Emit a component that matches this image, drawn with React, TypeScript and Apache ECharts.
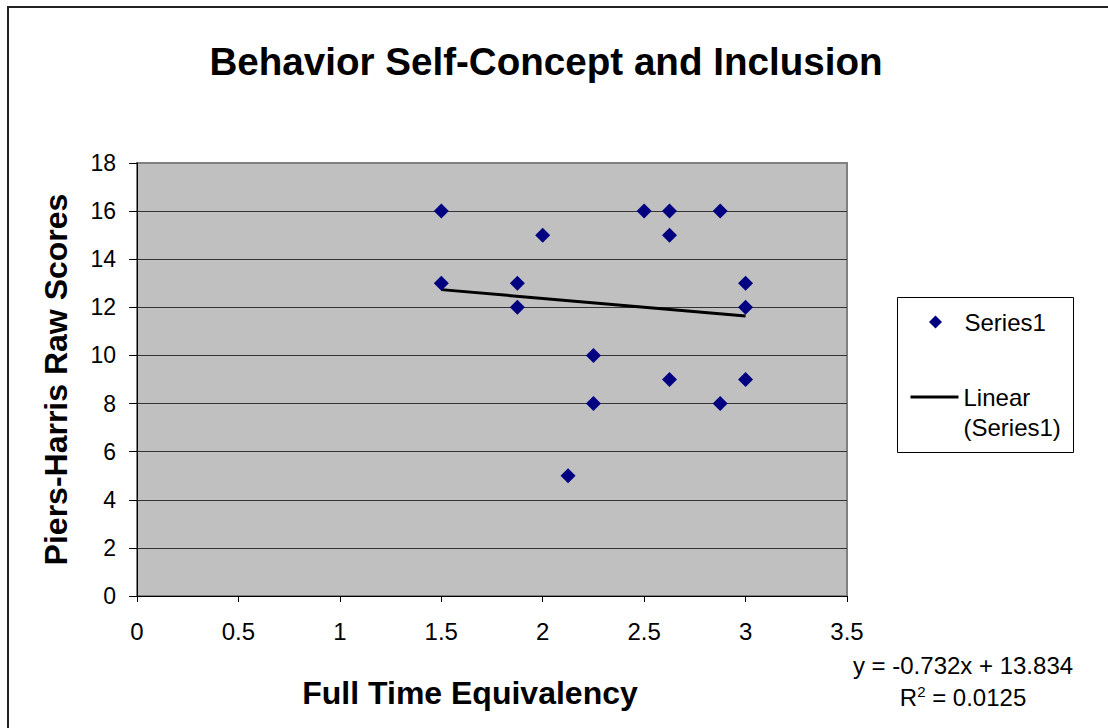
import React, { useEffect, useRef } from "react";
import * as echarts from "echarts";

const fte = [1.5, 1.5, 1.875, 1.875, 2, 2.125, 2.25, 2.25, 2.5, 2.625, 2.625, 2.625, 2.875, 2.875, 3, 3, 3];
const scores = [16, 13, 13, 12, 15, 5, 10, 8, 16, 16, 15, 9, 16, 8, 13, 12, 9];
const trendX = [1.5, 3];
const trendY = [12.736, 11.638];
const titleText = "Behavior Self-Concept and Inclusion";
const xName = "Full Time Equivalency";
const yName = "Piers-Harris Raw Scores";
const seriesName = "Series1";
const trendName = "Linear (Series1)";
const equation = "y = -0.732x + 13.834";
const rSquared = "0.0125";

const FONT = "'Liberation Sans', Arial, sans-serif";

export default function App() {
  const ref = useRef<HTMLDivElement>(null);
  useEffect(() => {
    if (!ref.current) return;
    const chart = echarts.init(ref.current, null, { renderer: "svg" });
    const splitColors = ["#333", "#333", "#333", "#333", "#333", "#333", "#333", "#333", "#333", "#808080"];
    chart.setOption({
      animation: false,
      backgroundColor: "#fff",
      textStyle: { fontFamily: FONT },
      title: {
        text: titleText,
        left: 541,
        textAlign: "center",
        top: 37,
        textStyle: { fontFamily: FONT, fontSize: 38.6, fontWeight: "bold", color: "#000" },
      },
      grid: {
        left: 137,
        top: 163,
        width: 710,
        height: 433,
        show: true,
        backgroundColor: "#C0C0C0",
        borderColor: "#808080",
        borderWidth: 2,
      },
      xAxis: {
        type: "value",
        min: 0,
        max: 3.5,
        interval: 0.5,
        name: xName,
        nameLocation: "middle",
        nameGap: 81,
        nameTextStyle: {
          fontFamily: FONT,
          fontSize: 32,
          fontWeight: "bold",
          color: "#000",
          verticalAlign: "top",
          padding: [0, 44, 0, 0],
        },
        axisLine: { show: true, onZero: false, lineStyle: { color: "#000", width: 1 } },
        axisTick: { show: true, length: 6, lineStyle: { color: "#000" } },
        axisLabel: { fontFamily: FONT, fontSize: 24, color: "#000", margin: 23 },
        splitLine: { show: false },
      },
      yAxis: {
        type: "value",
        min: 0,
        max: 18,
        interval: 2,
        name: yName,
        nameLocation: "middle",
        nameGap: 65,
        nameRotate: 90,
        nameTextStyle: { fontFamily: FONT, fontSize: 32, fontWeight: "bold", color: "#000" },
        axisLine: { show: true, onZero: false, lineStyle: { color: "#000", width: 1 } },
        axisTick: { show: true, length: 8, lineStyle: { color: "#000" } },
        axisLabel: { fontFamily: FONT, fontSize: 23, color: "#000", margin: 21 },
        splitLine: { show: true, lineStyle: { color: splitColors, width: 1 } },
      },
      legend: [
        {
          data: [{ name: seriesName, icon: "path://M0,-1L1,0L0,1L-1,0Z" }],
          orient: "vertical",
          left: 924,
          top: 305,
          itemWidth: 48,
          itemHeight: 13,
          symbolKeepAspect: true,
          itemStyle: { color: "#000080", opacity: 1 },
          textStyle: { fontFamily: FONT, fontSize: 24, color: "#000" },
        },
        {
          data: [trendName],
          orient: "vertical",
          left: 904,
          top: 347,
          itemWidth: 48,
          itemHeight: 14,
          itemStyle: { opacity: 0 },
          lineStyle: { color: "#000", width: 3 },
          formatter: () => "\nLinear\n(Series1)",
          textStyle: { fontFamily: FONT, fontSize: 24, color: "#000", lineHeight: 30 },
        },
      ],
      graphic: [
        {
          type: "rect",
          shape: { x: 8, y: 7, width: 1120, height: 740 },
          style: { fill: "none", stroke: "#222", lineWidth: 2 },
          silent: true,
        },
        {
          type: "rect",
          shape: { x: 897.5, y: 297.5, width: 176, height: 155 },
          style: { fill: "none", stroke: "#000", lineWidth: 1 },
          silent: true,
        },
        {
          type: "text",
          x: 963,
          y: 665,
          style: {
            text: equation,
            fontFamily: FONT,
            fontSize: 24,
            fill: "#000",
            align: "center",
            verticalAlign: "middle",
          },
        },
        {
          type: "text",
          x: 963,
          y: 697,
          style: {
            text: "R{sup|2} = " + rSquared,
            fontFamily: FONT,
            fontSize: 24,
            fill: "#000",
            align: "center",
            verticalAlign: "middle",
            rich: {
              sup: { fontSize: 15, verticalAlign: "top", padding: [0, 0, 12, 0], fontFamily: FONT, fill: "#000" },
            },
          },
        },
      ],
      series: [
        {
          name: seriesName,
          type: "scatter",
          symbol: "diamond",
          symbolSize: 15,
          itemStyle: { color: "#000080", opacity: 1 },
          data: fte.map((x, i) => [x, scores[i]]),
          z: 3,
        },
        {
          name: trendName,
          type: "line",
          symbol: "none",
          showSymbol: false,
          lineStyle: { color: "#000", width: 3 },
          itemStyle: { color: "#000" },
          data: trendX.map((x, i) => [x, trendY[i]]),
          z: 2,
        },
      ],
    });
    return () => chart.dispose();
  }, []);
  return (
    <div
      ref={ref}
      style={{ position: "absolute", left: 0, top: 0, width: 1108, height: 728, background: "#fff" }}
    />
  );
}
